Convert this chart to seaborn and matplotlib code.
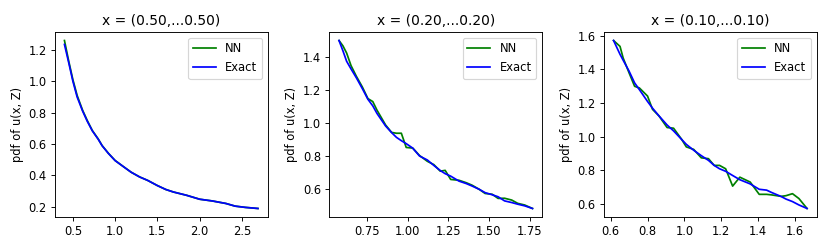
#Module
import numpy as np
import pandas as pd
import matplotlib
matplotlib.use('Agg')
import matplotlib.pyplot as plt
import seaborn as sns

#----------- Daten -----------#
#x = (0.50,...0.50)
x1 = [0.40, 0.45, 0.50, 0.55, 0.615, 0.67, 0.73, 0.80, 0.846, 0.92, 1.0, 1.1, 1.19,
      1.29, 1.385, 1.5, 1.6, 1.69, 1.846, 2.0, 2.15, 2.31, 2.42, 2.54, 2.69]
exact1 = [1.235, 1.12, 1.0, 0.9, 0.81, 0.745, 0.684, 0.63, 0.589, 0.54, 0.494, 0.455, 0.42,
          0.39, 0.368, 0.335, 0.31, 0.294, 0.273, 0.248, 0.237, 0.221, 0.204, 0.196, 0.189]
nn1 = [1.26, 1.13, 1.01, 0.91, 0.815, 0.75, 0.686, 0.632, 0.59, 0.541, 0.495, 0.455, 0.42,
       0.39, 0.368, 0.335, 0.31, 0.294, 0.273, 0.248, 0.237, 0.221, 0.204, 0.196, 0.189]

#x = (0.20,...0.20)
x2 = [0.576, 0.60, 0.623, 0.65, 0.683, 0.72, 0.754, 0.784, 0.81, 0.863, 0.90, 0.93, 0.96,
      0.99, 1.03, 1.072, 1.12, 1.16, 1.20, 1.23, 1.264, 1.315, 1.36, 1.396, 1.44, 1.476,
      1.52, 1.556, 1.596, 1.64, 1.677, 1.72, 1.768]
exact2 = [1.502, 1.44, 1.376, 1.33, 1.276, 1.21, 1.146, 1.106, 1.06, 0.984, 0.944, 0.915, 0.895,
          0.877, 0.85, 0.802, 0.778, 0.745, 0.714, 0.695, 0.68, 0.65, 0.635, 0.62, 0.60, 0.58,
          0.567, 0.555, 0.53, 0.52, 0.51, 0.50, 0.484]
nn2 = [1.502, 1.47, 1.426, 1.35, 1.285, 1.22, 1.15, 1.132, 1.08, 0.99, 0.945, 0.94, 0.94,
       0.854, 0.85, 0.805, 0.77, 0.75, 0.71, 0.715, 0.66, 0.655, 0.64, 0.625, 0.60, 0.575,
       0.57, 0.545, 0.546, 0.535, 0.515, 0.505, 0.484]

#x = (0.10,...0.10)
x3 = [0.616, 0.651, 0.668, 0.70, 0.73, 0.756, 0.80, 0.827, 0.862, 0.906, 0.941, 0.984, 1.01,
      1.05, 1.091, 1.13, 1.161, 1.19, 1.223, 1.261, 1.30, 1.356, 1.405, 1.445, 1.47, 1.524,
      1.55, 1.585, 1.62, 1.664]
exact3 = [1.572, 1.49, 1.455, 1.39, 1.32, 1.28, 1.21, 1.17, 1.124, 1.07, 1.035, 0.985, 0.955,
          0.92, 0.888, 0.86, 0.83, 0.81, 0.795, 0.77, 0.745, 0.72, 0.688, 0.683, 0.67, 0.645,
          0.63, 0.615, 0.595, 0.574]
nn3 = [1.572, 1.537, 1.468, 1.38, 1.30, 1.29, 1.242, 1.163, 1.124, 1.055, 1.051, 0.986, 0.94,
       0.925, 0.875, 0.87, 0.83, 0.83, 0.81, 0.707, 0.76, 0.731, 0.658, 0.658, 0.655, 0.646,
       0.65, 0.662, 0.633, 0.574]

titles = ['x = (0.50,...0.50)', 'x = (0.20,...0.20)', 'x = (0.10,...0.10)']
panels = [(x1, nn1, exact1), (x2, nn2, exact2), (x3, nn3, exact3)]

#----------- Plot -----------#
fig, axes = plt.subplots(1, 3, figsize=(10, 3), dpi=83)
fig.subplots_adjust(left=0.066, right=0.984, bottom=0.129, top=0.871, wspace=0.29)

for ax, (xs, nn, exact), title in zip(axes, panels, titles):
    df = pd.DataFrame({'x': xs + xs,
                       'pdf': nn + exact,
                       'Methode': ['NN'] * len(xs) + ['Exact'] * len(xs)})
    sns.lineplot(data=df, x='x', y='pdf', hue='Methode', palette={'NN': 'g', 'Exact': 'b'},
                 linewidth=1.5, ax=ax)
    ax.legend(loc='upper right')
    ax.set_title(title)
    ax.set_xlabel('')
    ax.set_ylabel('pdf of u(x, Z)')

plt.savefig('out.png', dpi=83)
plt.close()
